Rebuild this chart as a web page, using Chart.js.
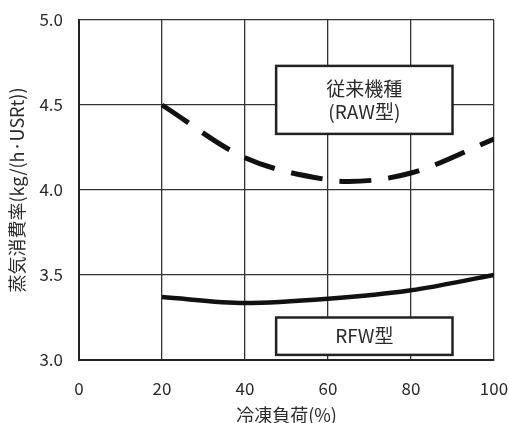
<!DOCTYPE html>
<html>
<head>
<meta charset="utf-8">
<script src="https://cdn.jsdelivr.net/npm/chart.js@4.4.1/dist/chart.umd.min.js"></script>
<style>
  html, body { margin: 0; padding: 0; background: #ffffff; }
  #chart { display: block; }
</style>
</head>
<body>
<canvas id="chart" width="509" height="423"></canvas>
<script>
// cooling load (%) and steam consumption for both machine types
const loadPoints = [20, 40, 60, 65, 80, 100];
const rawSteam = [4.5, 4.19, 4.06, 4.05, 4.1, 4.3];
const rfwLoad = [20, 40, 60, 80, 100];
const rfwSteam = [3.37, 3.335, 3.36, 3.41, 3.5];

// label boxes: [xMin, xMax, yMin, yMax] in data units, plus text lines
const rawBox = [47.5, 90, 4.33, 4.73];
const rawText = ["従来機種", "(RAW型)"];
const rfwBox = [47.5, 90, 3.03, 3.25];
const rfwText = ["RFW型"];

const xTitle = "冷凍負荷(%)";
const yTitle = "蒸気消費率(kg/(h·USRt))";

const textColor = "#2a2a2a";
const cjkFont = "'Noto Sans CJK JP', 'Noto Sans', sans-serif";

// draws white boxes with text on top of the grid, placed via the scales
const labelBoxes = {
  id: "labelBoxes",
  afterDatasetsDraw(chart) {
    const { ctx, scales: { x, y } } = chart;
    [[rawBox, rawText], [rfwBox, rfwText]].forEach(([b, lines]) => {
      const left = x.getPixelForValue(b[0]);
      const right = x.getPixelForValue(b[1]);
      const top = y.getPixelForValue(b[3]);
      const bottom = y.getPixelForValue(b[2]);
      ctx.save();
      ctx.fillStyle = "#ffffff";
      ctx.fillRect(left, top, right - left, bottom - top);
      ctx.strokeStyle = "#222222";
      ctx.lineWidth = 2.5;
      ctx.strokeRect(left, top, right - left, bottom - top);
      ctx.fillStyle = textColor;
      ctx.font = "19px " + cjkFont;
      ctx.textAlign = "center";
      ctx.textBaseline = "middle";
      const cx = (left + right) / 2;
      const cy = (top + bottom) / 2;
      const lh = 23;
      lines.forEach((t, i) => {
        ctx.fillText(t, cx, cy + (i - (lines.length - 1) / 2) * lh);
      });
      ctx.restore();
    });
  }
};

new Chart(document.getElementById("chart"), {
  type: "line",
  data: {
    datasets: [
      {
        label: "RAW",
        data: loadPoints.map((v, i) => ({ x: v, y: rawSteam[i] })),
        borderColor: "#111111",
        borderWidth: 5,
        borderDash: [32, 17],
        pointRadius: 0,
        cubicInterpolationMode: "monotone",
        fill: false
      },
      {
        label: "RFW",
        data: rfwLoad.map((v, i) => ({ x: v, y: rfwSteam[i] })),
        borderColor: "#111111",
        borderWidth: 4.5,
        pointRadius: 0,
        cubicInterpolationMode: "monotone",
        fill: false
      }
    ]
  },
  options: {
    responsive: false,
    animation: false,
    layout: { padding: { top: 20, right: 15, left: 0, bottom: 0 } },
    plugins: {
      legend: { display: false },
      tooltip: { enabled: false }
    },
    scales: {
      x: {
        type: "linear",
        min: 0,
        max: 100,
        ticks: {
          stepSize: 20,
          color: textColor,
          padding: 18,
          font: { family: cjkFont, size: 17 }
        },
        grid: { color: "#333333", lineWidth: 1.3, drawTicks: false },
        border: { color: "#222222", width: 2 },
        title: {
          display: true,
          text: xTitle,
          color: textColor,
          padding: { top: 0, bottom: -3 },
          font: { family: cjkFont, size: 18 }
        },
        afterFit(scale) {
          scale.height = 63;
          scale.paddingLeft = 0;
          scale.paddingRight = 0;
        }
      },
      y: {
        min: 3.0,
        max: 5.0,
        ticks: {
          stepSize: 0.5,
          color: textColor,
          padding: 16,
          font: { family: cjkFont, size: 17 },
          callback: (v) => v.toFixed(1)
        },
        grid: { color: "#333333", lineWidth: 1.3, drawTicks: false },
        border: { color: "#222222", width: 2 },
        title: {
          display: true,
          text: yTitle,
          color: textColor,
          padding: { top: 6, bottom: 0 },
          font: { family: cjkFont, size: 18 }
        },
        afterFit(scale) {
          scale.width = 79;
          scale.paddingTop = 0;
          scale.paddingBottom = 0;
        }
      }
    }
  },
  plugins: [labelBoxes]
});
</script>
</body>
</html>
